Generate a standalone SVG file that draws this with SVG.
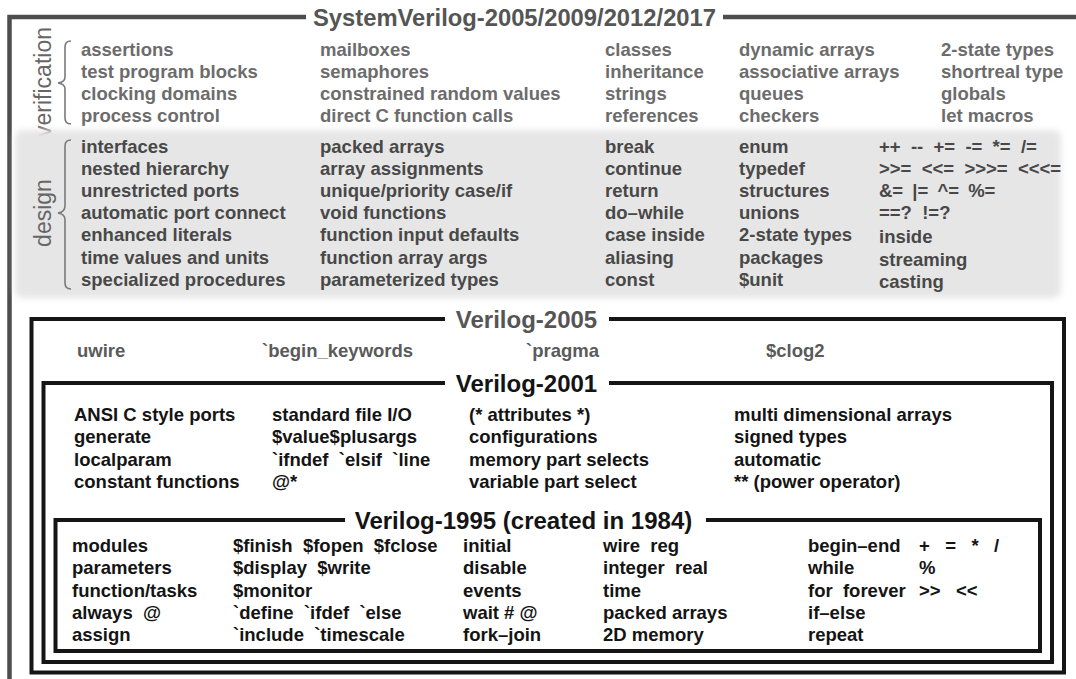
<svg xmlns="http://www.w3.org/2000/svg" width="1076" height="679" viewBox="0 0 1076 679">
  <defs>
    <style>
      text { font-family: "Liberation Sans", Arial, sans-serif; }
      .it { font-size: 18.5px; font-weight: bold; }
      .ver { fill: #6c6c6c; }
      .des { fill: #484848; }
      .v05 { fill: #5a5a5a; }
      .blk { fill: #141414; }
      .ttl { font-size: 24px; font-weight: bold; text-anchor: middle; }
      .side { font-size: 23px; fill: #666666; text-anchor: middle; }
      .frame { fill: none; stroke: #151515; stroke-width: 4; stroke-linejoin: miter; }
      .outer { fill: none; stroke: #4d4d4d; stroke-width: 4.5; }
      .brace { fill: none; stroke: #7a7a7a; stroke-width: 1.6; }
    </style>
    <filter id="soft" x="-5%" y="-15%" width="110%" height="130%">
      <feGaussianBlur stdDeviation="3"/>
    </filter>
  </defs>

  <rect width="1076" height="679" fill="#ffffff"/>

  <!-- SystemVerilog outer frame -->
  <g id="systemverilog">
    <path class="outer" d="M306 17 H9.5 V679"/>
    <path class="outer" d="M723 17 H1076"/>
    <text class="ttl" x="514.5" y="26" fill="#555555" textLength="403" lengthAdjust="spacingAndGlyphs">SystemVerilog-2005/2009/2012/2017</text>
  </g>

  <!-- verification features -->
  <g id="verification">
    <text class="side" transform="translate(51 82) rotate(-90)">verification</text>
    <path class="brace" d="M71 41 Q65 41 65 47 V77 Q65 82 58 83 Q65 84 65 89 V118 Q65 124 71 124"/>
    <g class="it ver">
      <text x="81" y="56">assertions</text>
      <text x="81" y="78">test program blocks</text>
      <text x="81" y="100">clocking domains</text>
      <text x="81" y="122">process control</text>
      <text x="320" y="56">mailboxes</text>
      <text x="320" y="78">semaphores</text>
      <text x="320" y="100">constrained random values</text>
      <text x="320" y="122">direct C function calls</text>
      <text x="605" y="56">classes</text>
      <text x="605" y="78">inheritance</text>
      <text x="605" y="100">strings</text>
      <text x="605" y="122">references</text>
      <text x="739" y="56">dynamic arrays</text>
      <text x="739" y="78">associative arrays</text>
      <text x="739" y="100">queues</text>
      <text x="739" y="122">checkers</text>
      <text x="941" y="56">2-state types</text>
      <text x="941" y="78">shortreal type</text>
      <text x="941" y="100">globals</text>
      <text x="941" y="122">let macros</text>
    </g>
  </g>

  <!-- design features on a shaded panel -->
  <g id="design">
    <rect x="15" y="130" width="1046" height="168" rx="8" fill="#e6e6e6" filter="url(#soft)"/>
    <text class="side" transform="translate(51 213) rotate(-90)">design</text>
    <path class="brace" d="M71 140 Q65 140 65 146 V206 Q65 212 58 213 Q65 214 65 220 V283 Q65 289 71 289"/>
    <g class="it des">
      <text x="81" y="153">interfaces</text>
      <text x="81" y="175">nested hierarchy</text>
      <text x="81" y="197">unrestricted ports</text>
      <text x="81" y="219">automatic port connect</text>
      <text x="81" y="241">enhanced literals</text>
      <text x="81" y="264">time values and units</text>
      <text x="81" y="286">specialized procedures</text>
      <text x="320" y="153">packed arrays</text>
      <text x="320" y="175">array assignments</text>
      <text x="320" y="197">unique/priority case/if</text>
      <text x="320" y="219">void functions</text>
      <text x="320" y="241">function input defaults</text>
      <text x="320" y="264">function array args</text>
      <text x="320" y="286">parameterized types</text>
      <text x="605" y="153">break</text>
      <text x="605" y="175">continue</text>
      <text x="605" y="197">return</text>
      <text x="605" y="219">do–while</text>
      <text x="605" y="241">case inside</text>
      <text x="605" y="264">aliasing</text>
      <text x="605" y="286">const</text>
      <text x="739" y="153">enum</text>
      <text x="739" y="175">typedef</text>
      <text x="739" y="197">structures</text>
      <text x="739" y="219">unions</text>
      <text x="739" y="241">2-state types</text>
      <text x="739" y="264">packages</text>
      <text x="739" y="286">$unit</text>
      <text x="879" y="153" xml:space="preserve">++  --  +=  -=  *=  /=</text>
      <text x="879" y="175" xml:space="preserve">&gt;&gt;=  &lt;&lt;=  &gt;&gt;&gt;=  &lt;&lt;&lt;=</text>
      <text x="879" y="197" word-spacing="4">&amp;= |= ^= %=</text>
      <text x="879" y="219" xml:space="preserve">==?  !=?</text>
      <text x="879" y="243">inside</text>
      <text x="879" y="266">streaming</text>
      <text x="879" y="288">casting</text>
    </g>
  </g>

  <!-- Verilog-2005 -->
  <g id="verilog-2005">
    <path class="frame" d="M445 319 H31.5 V672.5 H1064 V319 H609"/>
    <text class="ttl" x="526.5" y="328" fill="#555555">Verilog-2005</text>
    <g class="it v05">
      <text x="77" y="357">uwire</text>
      <text x="262" y="357">`begin_keywords</text>
      <text x="526" y="357">`pragma</text>
      <text x="766" y="357">$clog2</text>
    </g>
  </g>

  <!-- Verilog-2001 -->
  <g id="verilog-2001">
    <path class="frame" d="M445 383 H43.5 V662 H1052 V383 H609"/>
    <text class="ttl" x="526.5" y="392" fill="#141414">Verilog-2001</text>
    <g class="it blk">
      <text x="74" y="421">ANSI C style ports</text>
      <text x="74" y="443">generate</text>
      <text x="74" y="466">localparam</text>
      <text x="74" y="488">constant functions</text>
      <text x="272" y="421">standard file I/O</text>
      <text x="272" y="443">$value$plusargs</text>
      <text x="272" y="466" xml:space="preserve">`ifndef  `elsif  `line</text>
      <text x="272" y="488">@*</text>
      <text x="469" y="421">(* attributes *)</text>
      <text x="469" y="443">configurations</text>
      <text x="469" y="466">memory part selects</text>
      <text x="469" y="488">variable part select</text>
      <text x="734" y="421">multi dimensional arrays</text>
      <text x="734" y="443">signed types</text>
      <text x="734" y="466">automatic</text>
      <text x="734" y="488">** (power operator)</text>
    </g>
  </g>

  <!-- Verilog-1995 -->
  <g id="verilog-1995">
    <path class="frame" d="M345 520 H55.5 V651 H1040 V520 H706"/>
    <text class="ttl" x="523.5" y="529" fill="#141414">Verilog-1995 (created in 1984)</text>
    <g class="it blk">
      <text x="72" y="552">modules</text>
      <text x="72" y="574">parameters</text>
      <text x="72" y="597">function/tasks</text>
      <text x="72" y="619" xml:space="preserve">always  @</text>
      <text x="72" y="641">assign</text>
      <text x="233" y="552" xml:space="preserve">$finish  $fopen  $fclose</text>
      <text x="233" y="574" xml:space="preserve">$display  $write</text>
      <text x="233" y="597">$monitor</text>
      <text x="233" y="619" xml:space="preserve">`define  `ifdef  `else</text>
      <text x="233" y="641" xml:space="preserve">`include  `timescale</text>
      <text x="463" y="552">initial</text>
      <text x="463" y="574">disable</text>
      <text x="463" y="597">events</text>
      <text x="463" y="619">wait # @</text>
      <text x="463" y="641">fork–join</text>
      <text x="603" y="552" xml:space="preserve">wire  reg</text>
      <text x="603" y="574" xml:space="preserve">integer  real</text>
      <text x="603" y="597">time</text>
      <text x="603" y="619">packed arrays</text>
      <text x="603" y="641">2D memory</text>
      <text x="808" y="552">begin–end</text>
      <text x="808" y="574">while</text>
      <text x="808" y="597" xml:space="preserve">for  forever</text>
      <text x="808" y="619">if–else</text>
      <text x="808" y="641">repeat</text>
      <text x="919" y="552" xml:space="preserve">+   =   *   /</text>
      <text x="919" y="574">%</text>
      <text x="919" y="597" xml:space="preserve">&gt;&gt;   &lt;&lt;</text>
    </g>
  </g>
</svg>
